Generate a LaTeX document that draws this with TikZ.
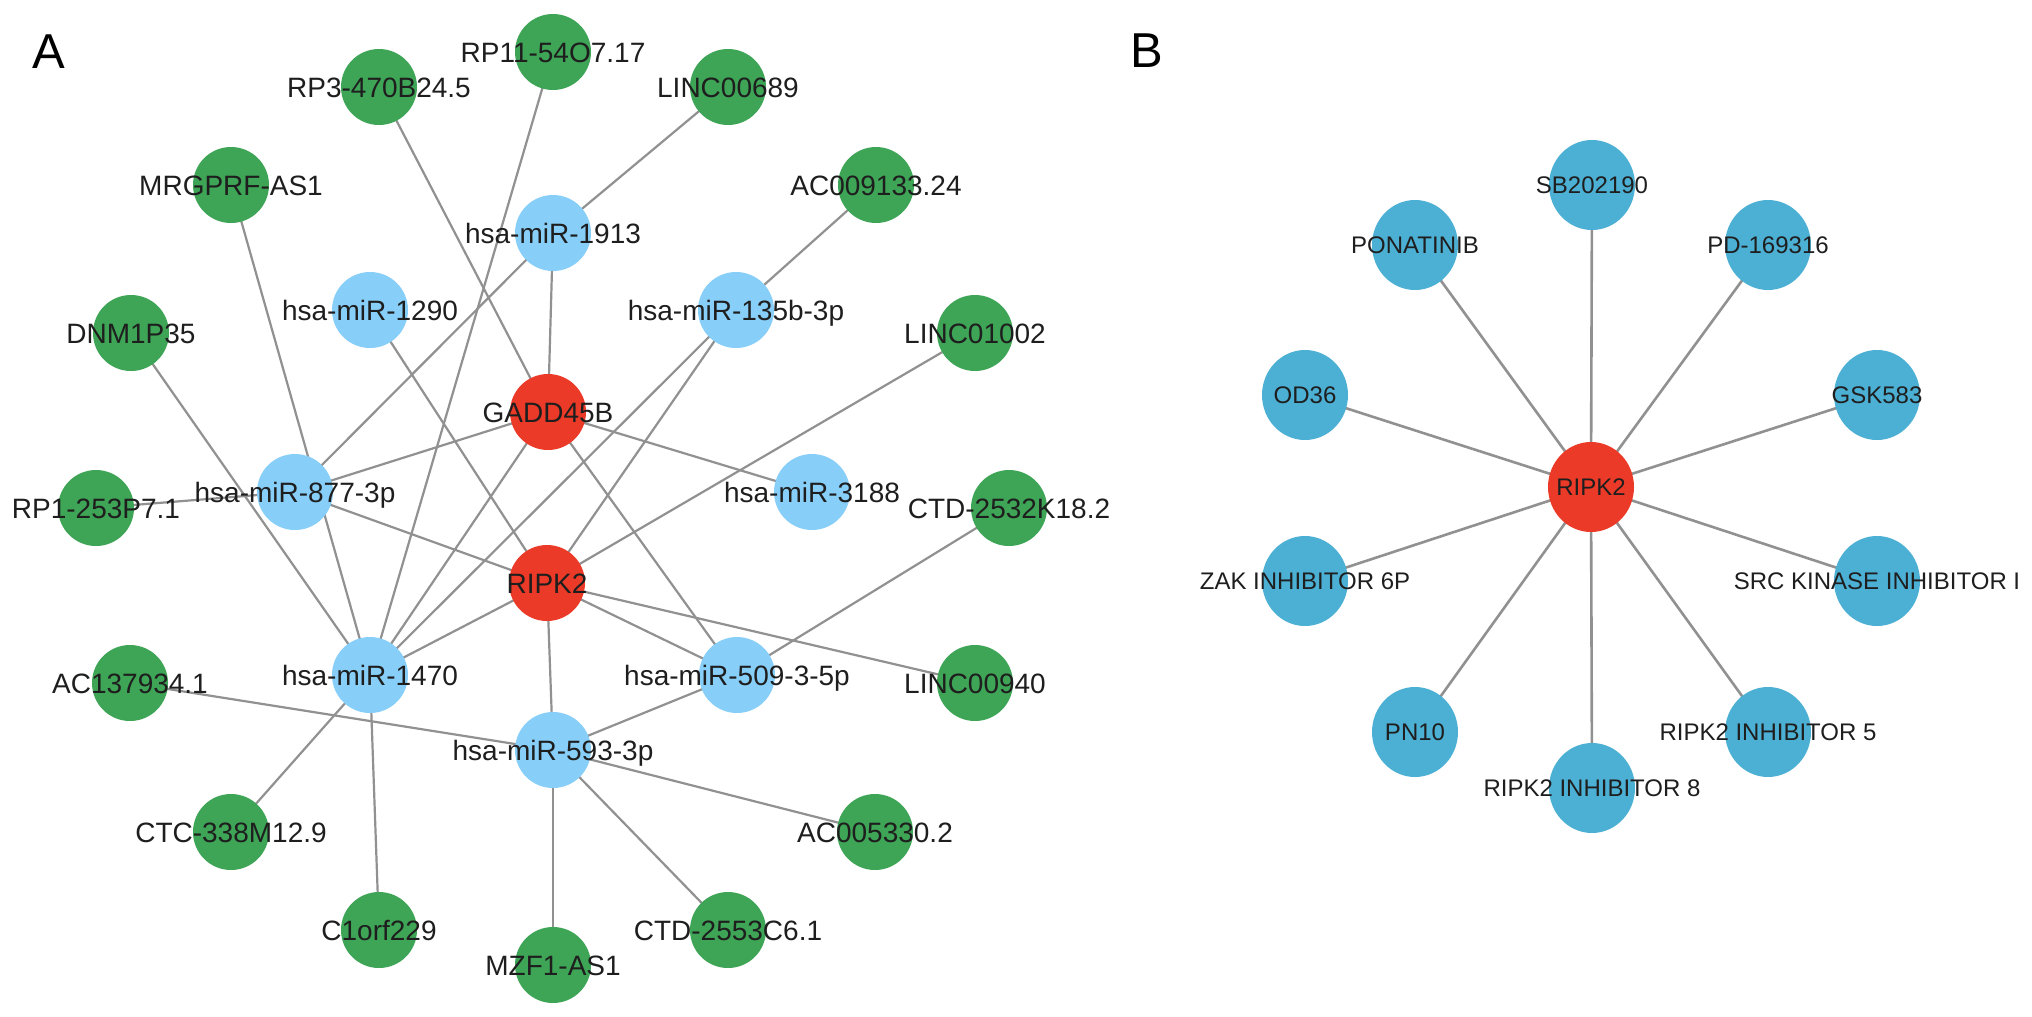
\documentclass[tikz,border=0pt]{standalone}
\usepackage{fontspec}
\setmainfont{Liberation Sans}
\usetikzlibrary{shapes.geometric}
\pgfdeclarelayer{back}
\pgfdeclarelayer{bg}
\pgfsetlayers{back,bg,main}
\definecolor{cgreen}{RGB}{62,164,86}
\definecolor{cblue}{RGB}{135,206,248}
\definecolor{cred}{RGB}{236,58,40}
\definecolor{cbblue}{RGB}{76,176,212}
\definecolor{cedge}{RGB}{145,145,145}
\definecolor{ctext}{RGB}{30,30,30}
\tikzset{
  nd/.style={circle, minimum size=76pt, inner sep=0pt},
  gn/.style={nd, fill=cgreen},
  bl/.style={nd, fill=cblue},
  rd/.style={nd, fill=cred},
  bnode/.style={ellipse, minimum width=86pt, minimum height=90pt, inner sep=0pt, fill=cbblue},
  brd/.style={ellipse, minimum width=86pt, minimum height=90pt, inner sep=0pt, fill=cred},
  lab/.style={text=ctext, inner sep=0pt, font=\fontsize{28}{30}\selectfont, text height=20pt, text depth=0pt},
  blab/.style={text=ctext, inner sep=0pt, font=\fontsize{24}{26}\selectfont, text height=17pt, text depth=0pt},
  panel/.style={text=black, inner sep=0pt, font=\fontsize{49}{52}\selectfont, text height=35pt, text depth=0pt},
  edge/.style={draw=cedge, line width=2.2pt},
  bedge/.style={draw=cedge, line width=2.6pt}
}
\begin{document}
\begin{tikzpicture}[x=1pt,y=-1pt]
\useasboundingbox (0,0) rectangle (2032,1017);
\begin{pgfonlayer}{back}
\fill[white] (0,0) rectangle (2032,1017);
\end{pgfonlayer}

% panel letters
\node[panel] (pA) at (49,51) {A};
\node[panel] (pB) at (1147,50) {B};

% ---------- Panel A nodes ----------
\node[gn] (g1) at (553,52) {};
\node[gn] (g2) at (379,87) {};
\node[gn] (g3) at (728,87) {};
\node[gn] (g4) at (231,185) {};
\node[gn] (g5) at (876,185) {};
\node[gn] (g6) at (131,333) {};
\node[gn] (g7) at (975,333) {};
\node[gn] (g8) at (96,508) {};
\node[gn] (g9) at (1009,508) {};
\node[gn] (g10) at (130,683) {};
\node[gn] (g11) at (975,683) {};
\node[gn] (g12) at (231,832) {};
\node[gn] (g13) at (875,832) {};
\node[gn] (g14) at (379,930) {};
\node[gn] (g15) at (728,930) {};
\node[gn] (g16) at (553,965) {};

\node[bl] (m1913) at (553,233) {};
\node[bl] (m1290) at (370,310) {};
\node[bl] (m135) at (736,310) {};
\node[bl] (m877) at (295,492) {};
\node[bl] (m3188) at (812,492) {};
\node[bl] (m1470) at (370,675) {};
\node[bl] (m509) at (737,675) {};
\node[bl] (m593) at (553,750) {};

\node[rd] (gadd) at (548,412) {};
\node[rd] (ripk) at (547,583) {};

% ---------- Panel B nodes ----------
\node[brd] (bR) at (1591,487) {};
\node[bnode] (b1) at (1592,185) {};
\node[bnode] (b2) at (1415,245) {};
\node[bnode] (b3) at (1768,245) {};
\node[bnode] (b4) at (1305,395) {};
\node[bnode] (b5) at (1877,395) {};
\node[bnode] (b6) at (1305,581) {};
\node[bnode] (b7) at (1877,581) {};
\node[bnode] (b8) at (1415,732) {};
\node[bnode] (b9) at (1592,788) {};
\node[bnode] (b10) at (1768,732) {};

% ---------- Edges ----------
\begin{pgfonlayer}{bg}
\foreach \a/\b in {g2/gadd, g1/m1470, g3/m1913, g4/m1470, g5/m135, g6/m1470,
  g7/ripk, g8/m877, g9/m509, g10/m593, g11/ripk, g12/m1470, g13/m593,
  g14/m1470, g15/m593, g16/m593, m1913/gadd, m1913/m877, m1290/ripk,
  m135/ripk, m135/m1470, m877/gadd, m877/ripk, m3188/gadd, m1470/gadd,
  m1470/ripk, m509/gadd, m509/ripk, m593/ripk, m593/m509}
  \draw[edge] (\a.center) -- (\b.center);
\foreach \b in {b1,b2,b3,b4,b5,b6,b7,b8,b9,b10}
  \draw[bedge] (bR.center) -- (\b.center);
\end{pgfonlayer}

% ---------- Labels panel A ----------
\node[lab] (lg1) at (g1) {RP11-54O7.17};
\node[lab] (lg2) at (g2) {RP3-470B24.5};
\node[lab] (lg3) at (g3) {LINC00689};
\node[lab] (lg4) at (g4) {MRGPRF-AS1};
\node[lab] (lg5) at (g5) {AC009133.24};
\node[lab] (lg6) at (g6) {DNM1P35};
\node[lab] (lg7) at (g7) {LINC01002};
\node[lab] (lg8) at (g8) {RP1-253P7.1};
\node[lab] (lg9) at (g9) {CTD-2532K18.2};
\node[lab] (lg10) at (g10) {AC137934.1};
\node[lab] (lg11) at (g11) {LINC00940};
\node[lab] (lg12) at (g12) {CTC-338M12.9};
\node[lab] (lg13) at (g13) {AC005330.2};
\node[lab] (lg14) at (g14) {C1orf229};
\node[lab] (lg15) at (g15) {CTD-2553C6.1};
\node[lab] (lg16) at (g16) {MZF1-AS1};
\node[lab] (lm1913) at (m1913) {hsa-miR-1913};
\node[lab] (lm1290) at (m1290) {hsa-miR-1290};
\node[lab] (lm135) at (m135) {hsa-miR-135b-3p};
\node[lab] (lm877) at (m877) {hsa-miR-877-3p};
\node[lab] (lm3188) at (m3188) {hsa-miR-3188};
\node[lab] (lm1470) at (m1470) {hsa-miR-1470};
\node[lab] (lm509) at (m509) {hsa-miR-509-3-5p};
\node[lab] (lm593) at (m593) {hsa-miR-593-3p};
\node[lab] (lgadd) at (gadd) {GADD45B};
\node[lab] (lripk) at (ripk) {RIPK2};

% ---------- Labels panel B ----------
\node[blab] (lbR) at (bR) {RIPK2};
\node[blab] (lb1) at (b1) {SB202190};
\node[blab] (lb2) at (b2) {PONATINIB};
\node[blab] (lb3) at (b3) {PD-169316};
\node[blab] (lb4) at (b4) {OD36};
\node[blab] (lb5) at (b5) {GSK583};
\node[blab] (lb6) at (b6) {ZAK INHIBITOR 6P};
\node[blab] (lb7) at (b7) {SRC KINASE INHIBITOR I};
\node[blab] (lb8) at (b8) {PN10};
\node[blab] (lb9) at (b9) {RIPK2 INHIBITOR 8};
\node[blab] (lb10) at (b10) {RIPK2 INHIBITOR 5};
\end{tikzpicture}
\end{document}
